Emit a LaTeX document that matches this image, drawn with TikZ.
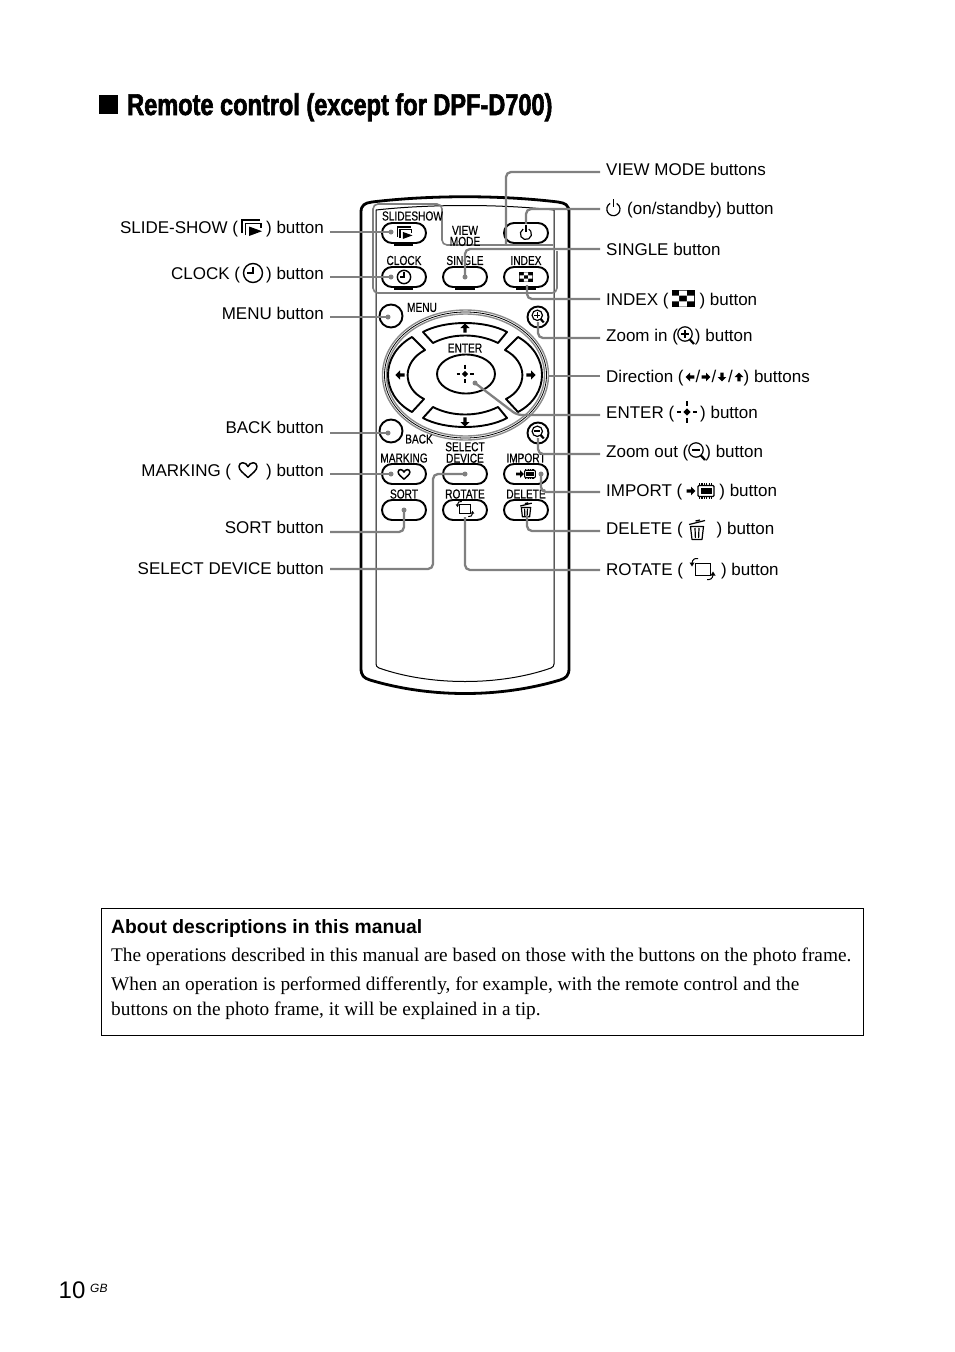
\documentclass[tikz,border=0pt]{standalone}
\usepackage{fontspec}
\setmainfont{Liberation Sans}
\newfontfamily\serifb{Liberation Serif}
\newfontfamily\condf[FakeStretch=0.78,FakeBold=0.4]{Liberation Sans}
\newfontfamily\titlef[FakeStretch=0.785,FakeBold=2]{Liberation Sans}
\usetikzlibrary{calc,shapes.geometric}
\tikzset{
 body/.style={draw=black,line width=2.8pt,line join=round},
 thinl/.style={draw=black,line width=1pt},
 pillb/.style={draw=black,line width=1.9pt,fill=white,rounded corners=10pt,minimum width=44pt,minimum height=20pt,inner sep=0pt},
 roundb/.style={draw=black,line width=1.9pt,fill=white,circle,inner sep=0pt},
 dirb/.style={draw=black,line width=1.9pt,fill=white,line join=round},
 under/.style={line width=1.6pt,draw=black},
 conn/.style={draw=black!50,line width=2.3pt,rounded corners=5pt},
 dotn/.style={circle,fill=black!50,inner sep=0pt,minimum size=5pt},
 tipn/.style={circle,inner sep=0pt,minimum size=.5pt},
 rlab/.style={anchor=base west,inner xsep=6pt,inner ysep=0pt,font=\fontsize{17}{20}\selectfont},
 llab/.style={anchor=base east,inner xsep=6pt,inner ysep=0pt,font=\fontsize{17}{20}\selectfont},
 rtxt/.style={inner sep=0pt,font=\condf\fontsize{13}{13}\selectfont},
 serifl/.style={anchor=base west,inner sep=0pt,font=\serifb\fontsize{19.3}{22}\selectfont},
 iconslide/.pic={
  \draw[line width=1.3pt] (-10,5)--(-10,-8)--(8,-8);
  \draw[line width=1.3pt] (-6.5,7)--(-6.5,-4.5)--(9,-4.5)--(9,0);
  \fill (-3,-1.5)--(-3,8)--(10,3.2)--cycle;},
 iconclock/.pic={\draw[line width=1.4pt] (0,0) circle (9.5); \draw[line width=1.4pt] (0,-6.5)--(0,0)--(-6,0);},
 iconpower/.pic={\draw[line width=1.2pt] (-3.4,-4.6) arc[start angle=-120,end angle=-420,radius=6.6]; \draw[line width=1.2pt] (0,-9)--(0,-1.5);},
 iconindex/.pic={\fill (-11.5,-8.5) rectangle (11.5,8.5);
   \fill[white] (-3.8,-8) rectangle (3.8,-2.8) (-11,-2.8) rectangle (-3.8,2.8) (3.8,-2.8) rectangle (11,2.8) (-3.8,2.8) rectangle (3.8,8);},
 iconzoomin/.pic={\draw[line width=1.2pt] (-1,-1) circle (7.2); \draw[line width=1.2pt] (-5,-1)--(3,-1) (-1,-5)--(-1,3); \draw[line width=2.2pt] (3.5,4)--(8,9);},
 iconzoomout/.pic={\draw[line width=1.2pt] (-1,-1) circle (7.2); \draw[line width=1.6pt] (-5,-1)--(3,-1); \draw[line width=2.2pt] (3.5,4)--(8,9);},
 iconarrow/.pic={\fill (0,-5.5)--(5.5,0)--(2,0)--(2,5.5)--(-2,5.5)--(-2,0)--(-5.5,0)--cycle;},
 iconenter/.pic={\fill (0,-3.6)--(3.6,0)--(0,3.6)--(-3.6,0)--cycle;
   \draw[line width=1.1pt] (0,-11)--(0,-6) (0,6)--(0,11) (-10,0)--(-6,0) (6,0)--(10,0);},
 iconheart/.pic={\draw[line width=1.5pt,line join=round] (0,8) .. controls (-4,4) and (-9,1) .. (-9,-3) .. controls (-9,-8) and (-2,-8) .. (0,-3) .. controls (2,-8) and (9,-8) .. (9,-3) .. controls (9,1) and (4,4) .. (0,8);},
 iconchip/.pic={\draw[line width=1.1pt,rounded corners=1pt] (-8,-5.5) rectangle (8,5.5); \fill (-5.5,-3.2) rectangle (5.5,3.2);
   \draw[line width=1.3pt,dash pattern=on 1.2pt off 1.2pt] (-7,-7)--(7,-7) (-7,7)--(7,7);},
 icontrash/.pic={\draw[line width=1.2pt] (-8,-5.5)--(8,-9.5) (-1.5,-9)--(3,-10);
   \draw[line width=1.2pt,line join=round] (-6.5,-3.5)--(-5,9.5)--(5,9.5)--(6.5,-3.5)--cycle;
   \draw[line width=1.2pt] (-2,-2)--(-1.6,8) (2,-2)--(1.6,8);},
 iconrotate/.pic={\draw[line width=.9pt] (-7.5,-6) rectangle (7.5,6);
   \draw[line width=1pt] (-10.5,-6) .. controls (-10,-9.5) and (-8,-11) .. (-4.5,-10.5);
   \fill (-13,-6.5)--(-8,-6.5)--(-10.5,-2.5)--cycle;
   \draw[line width=1pt] (10.5,6) .. controls (10,9.5) and (8,11) .. (4.5,10.5);
   \fill (13,6.5)--(8,6.5)--(10.5,2.5)--cycle;},
}
\begin{document}
\begin{tikzpicture}[x=1pt,y=-1pt]
\useasboundingbox (0,0) rectangle (954,1352);
% heading
\fill (99,95) rectangle (118,114);
\node[anchor=base west,inner sep=0pt,font=\titlef\bfseries\fontsize{30}{32}\selectfont] (title) at (127,115) {Remote control (except for DPF-D700)};
% remote body
\draw[body] (361,225) -- (361,212) .. controls (361,205) and (365,203) .. (372,202) .. controls (430,195) and (500,195) .. (558,202) .. controls (565,203) and (569,205) .. (569,212) -- (569,668) .. controls (569,676) and (566,678) .. (560,680) .. controls (500,698) and (430,698) .. (370,680) .. controls (364,678) and (361,676) .. (361,668) -- cycle;
\draw[thinl] (376,210) .. controls (430,204) and (500,204) .. (554,210) -- (554,664) .. controls (554,666) and (553,667) .. (551,668) .. controls (500,686) and (430,686) .. (379,668) .. controls (377,667) and (376,666) .. (376,664) -- cycle;
% grey bracket
\draw[draw=black!50,line width=1.6pt,rounded corners=5pt] (553,245) -- (442,245) -- (442,204) -- (373,204) -- (373,293) -- (557,293) -- (557,251);
% buttons
\node[pillb] (bSlide) at (404,233) {};
\node[pillb] (bPower) at (526,233) {};
\node[pillb] (bClock) at (404,277) {};
\node[pillb] (bSingle) at (465,277) {};
\node[pillb] (bIndex) at (526,277) {};
\node[pillb] (bMarking) at (404,474) {};
\node[pillb] (bSelect) at (465,474) {};
\node[pillb] (bImport) at (526,474) {};
\node[pillb] (bSort) at (404,510) {};
\node[pillb] (bRotate) at (465,510) {};
\node[pillb] (bDelete) at (526,510) {};
\node[roundb,minimum size=23pt] (bMenu) at (391,316) {};
\node[roundb,minimum size=23pt] (bBack) at (391,431) {};
\node[roundb,minimum size=21pt] (bZin) at (538,317) {};
\node[roundb,minimum size=21pt] (bZout) at (538,433) {};
\draw[under] (394,245)--(413,245) (394,289)--(413,289) (455,289)--(475,289) (516,289)--(536,289);
% direction ring
\draw[draw=black!45,line width=1.4pt] (465.5,375) ellipse [x radius=83,y radius=65];
\draw[draw=black,line width=.8pt] (465.5,375) ellipse [x radius=81,y radius=63];
\draw[draw=black!45,line width=1.4pt] (465.5,375) ellipse [x radius=79,y radius=61];
\draw[dirb] (423,332) .. controls (445,320) and (485,320) .. (507,332) -- (498,343) .. controls (478,333) and (452,333) .. (433,343) -- cycle;
\draw[dirb] (423,418) .. controls (445,430) and (485,430) .. (507,418) -- (498,407) .. controls (478,417) and (452,417) .. (433,407) -- cycle;
\draw[dirb] (412,337) -- (425,350) .. controls (402,362) and (402,388) .. (424,399) -- (412,412) .. controls (380,395) and (380,355) .. (412,337) -- cycle;
\draw[dirb] (518,337) -- (505,350) .. controls (528,362) and (528,388) .. (506,399) -- (518,412) .. controls (550,395) and (550,355) .. (518,337) -- cycle;
\node[draw=black,line width=1.9pt,ellipse,minimum width=58pt,minimum height=39pt,inner sep=0pt,fill=white] (bEnter) at (466,374) {};
\pic[scale=.85] at (465,374) {iconenter};
\pic[scale=.85] at (465,328) {iconarrow};
\pic[scale=.85,rotate=180] at (465,422) {iconarrow};
\pic[scale=.85,rotate=90] at (400,375) {iconarrow};
\pic[scale=.85,rotate=-90] at (531,375) {iconarrow};
% button icons
\pic[scale=.75] at (405,233) {iconslide};
\pic[scale=.85] at (526,233) {iconpower};
\pic[scale=.7] at (404,277) {iconclock};
\pic[scale=.57] at (526,277) {iconindex};
\pic[scale=.72] at (538,316) {iconzoomin};
\pic[scale=.72] at (538,432) {iconzoomout};
\pic[scale=.65] at (404,474) {iconheart};
\pic[scale=.7,rotate=-90] at (520,474) {iconarrow};
\pic[scale=.68] at (530,474) {iconchip};
\pic[scale=.72] at (526,510) {icontrash};
\pic[scale=.72] at (465,509) {iconrotate};
% remote texts
\node[rtxt] (tSlide) at (412.5,216) {SLIDESHOW};
\node[rtxt,align=center,font=\condf\fontsize{13}{11}\selectfont] (tView) at (465,236) {VIEW\\MODE};
\node[rtxt] (tClock) at (404,260.5) {CLOCK};
\node[rtxt] (tSingle) at (465,260.5) {SINGLE};
\node[rtxt] (tIndex) at (526,260.5) {INDEX};
\node[rtxt] (tMenu) at (422,307.5) {MENU};
\node[rtxt] (tEnter) at (465,348) {ENTER};
\node[rtxt] (tBack) at (419,439) {BACK};
\node[rtxt,align=center,font=\condf\fontsize{13}{11.5}\selectfont] (tSel) at (465,452.5) {SELECT\\DEVICE};
\node[rtxt] (tMark) at (404,458) {MARKING};
\node[rtxt] (tImp) at (526,458) {IMPORT};
\node[rtxt] (tSort) at (404,494) {SORT};
\node[rtxt] (tRot) at (465,494) {ROTATE};
\node[rtxt] (tDel) at (526,494) {DELETE};
% connector targets
\node[dotn] (dSlide) at (391,232) {};
\node[dotn] (dClock) at (391,277) {};
\node[dotn] (dMenu) at (388,317) {};
\node[dotn] (dBack) at (388,433) {};
\node[dotn] (dMark) at (391,474) {};
\node[dotn] (dSort) at (404,510) {};
\node[dotn] (dSel) at (465,474) {};
\node[tipn] (dVM) at (506,244) {};
\node[tipn] (dPow) at (526,224) {};
\node[dotn] (dSing) at (465,277) {};
\node[tipn] (dInd) at (527,285) {};
\node[tipn] (dZin) at (538,322) {};
\node[tipn] (dDir) at (548.5,376) {};
\node[dotn] (dEnt) at (475,383) {};
\node[tipn] (dZout) at (538,438) {};
\node[dotn] (dImp) at (541,474) {};
\node[tipn] (dDel) at (527,515) {};
\node[tipn] (dRot) at (465,517) {};
% labels, left
\node[llab] (lSlide) at (330,233) {SLIDE-SHOW (\hspace{28pt}) button};
\node[llab] (lClock) at (330,279) {CLOCK (\hspace{26pt}) button};
\node[llab] (lMenu) at (330,319) {MENU button};
\node[llab] (lBack) at (330,433) {BACK button};
\node[llab] (lMark) at (330,476) {MARKING (\hspace{35pt}) button};
\node[llab] (lSort) at (330,533) {SORT button};
\node[llab] (lSel) at (330,574) {SELECT DEVICE button};
% labels, right
\node[rlab] (rVM) at (600,175) {VIEW MODE buttons};
\node[rlab] (rPow) at (600,214) {\hspace{21pt}(on/standby) button};
\node[rlab] (rSing) at (600,255) {SINGLE button};
\node[rlab] (rInd) at (600,305) {INDEX (\hspace{31pt}) button};
\node[rlab] (rZin) at (600,341) {Zoom in (\hspace{17pt}) button};
\node[rlab] (rDir) at (600,382) {Direction (\hspace{60pt}) buttons};
\node[rlab] (rEnt) at (600,418) {ENTER (\hspace{26pt}) button};
\node[rlab] (rZout) at (600,457) {Zoom out (\hspace{17pt}) button};
\node[rlab] (rImp) at (600,496) {IMPORT (\hspace{37pt}) button};
\node[rlab] (rDel) at (600,534) {DELETE (\hspace{34pt}) button};
\node[rlab] (rRot) at (600,575) {ROTATE (\hspace{38pt}) button};
% label icons
\pic at (252,228) {iconslide};
\pic at (253,273) {iconclock};
\pic at (248,469.5) {iconheart};
\pic at (613.5,208) {iconpower};
\pic at (683,298.5) {iconindex};
\pic at (686,335) {iconzoomin};
\pic[rotate=90,scale=.8] at (690,377) {iconarrow};
\node[font=\fontsize{17}{20}\selectfont,inner sep=0pt,anchor=base] (s1) at (698,382) {/};
\pic[rotate=-90,scale=.8] at (706,377) {iconarrow};
\node[font=\fontsize{17}{20}\selectfont,inner sep=0pt,anchor=base] (s2) at (714,382) {/};
\pic[rotate=180,scale=.8] at (722,377) {iconarrow};
\node[font=\fontsize{17}{20}\selectfont,inner sep=0pt,anchor=base] (s3) at (730.5,382) {/};
\pic[scale=.8] at (739,377) {iconarrow};
\pic at (687,412) {iconenter};
\pic at (697,451) {iconzoomout};
\pic[rotate=-90,scale=.8] at (691,491) {iconarrow};
\pic at (706,491) {iconchip};
\pic at (697,530) {icontrash};
\pic at (702.5,569) {iconrotate};
% connectors
\draw[conn] (lSlide.base east) ++(0,-1) -- (dSlide.center);
\draw[conn] (lClock.base east) ++(0,-2) -- (dClock.center);
\draw[conn] (lMenu.base east) ++(0,-2) -- (dMenu.center);
\draw[conn] (lBack.base east) -- (dBack.center);
\draw[conn] (lMark.base east) ++(0,-2) -- (dMark.center);
\draw[conn] (lSort.base east) ++(0,-1) -| (dSort.center);
\draw[conn] (lSel.base east) ++(0,-5) -| ($(dSel)+(-32,0)$) -- (dSel.center);
\draw[conn] (rVM.base west) ++(0,-3) -| (dVM.center);
\draw[conn] (rPow.base west) ++(0,-5) -| (dPow.center);
\draw[conn] (rSing.base west) ++(0,-6) -| (dSing.center);
\draw[conn] (rInd.base west) ++(0,-6) -| (dInd.center);
\draw[conn] (rZin.base west) ++(0,-3) -| (dZin.center);
\draw[conn] (rDir.base west) ++(0,-6) -- (dDir.center);
\draw[conn] (rEnt.base west) ++(0,-3) -- ($(dEnt)+(42,32)$) -- (dEnt.center);
\draw[conn] (rZout.base west) ++(0,-3) -| (dZout.center);
\draw[conn] (rImp.base west) ++(0,-4) -| (dImp.center);
\draw[conn] (rDel.base west) ++(0,-3) -| (dDel.center);
\draw[conn] (rRot.base west) ++(0,-5) -| (dRot.center);
% note
\draw[line width=.9pt] (101.5,908.5) rectangle (863.5,1035.5);
\node[anchor=base west,inner sep=0pt,font=\bfseries\fontsize{19.3}{22}\selectfont] (n0) at (111,933) {About descriptions in this manual};
\node[serifl] (n1) at (111,961) {The operations described in this manual are based on those with the buttons on the photo frame.};
\node[serifl] (n2) at (111,990) {When an operation is performed differently, for example, with the remote control and the};
\node[serifl] (n3) at (111,1015) {buttons on the photo frame, it will be explained in a tip.};
% page number
\node[anchor=base west,inner sep=0pt,font=\fontsize{24}{26}\selectfont] (pg) at (58.5,1298) {10};
\node[anchor=base west,inner sep=0pt,font=\itshape\fontsize{12}{14}\selectfont] (gb) at (90,1292) {GB};
\end{tikzpicture}
\end{document}
